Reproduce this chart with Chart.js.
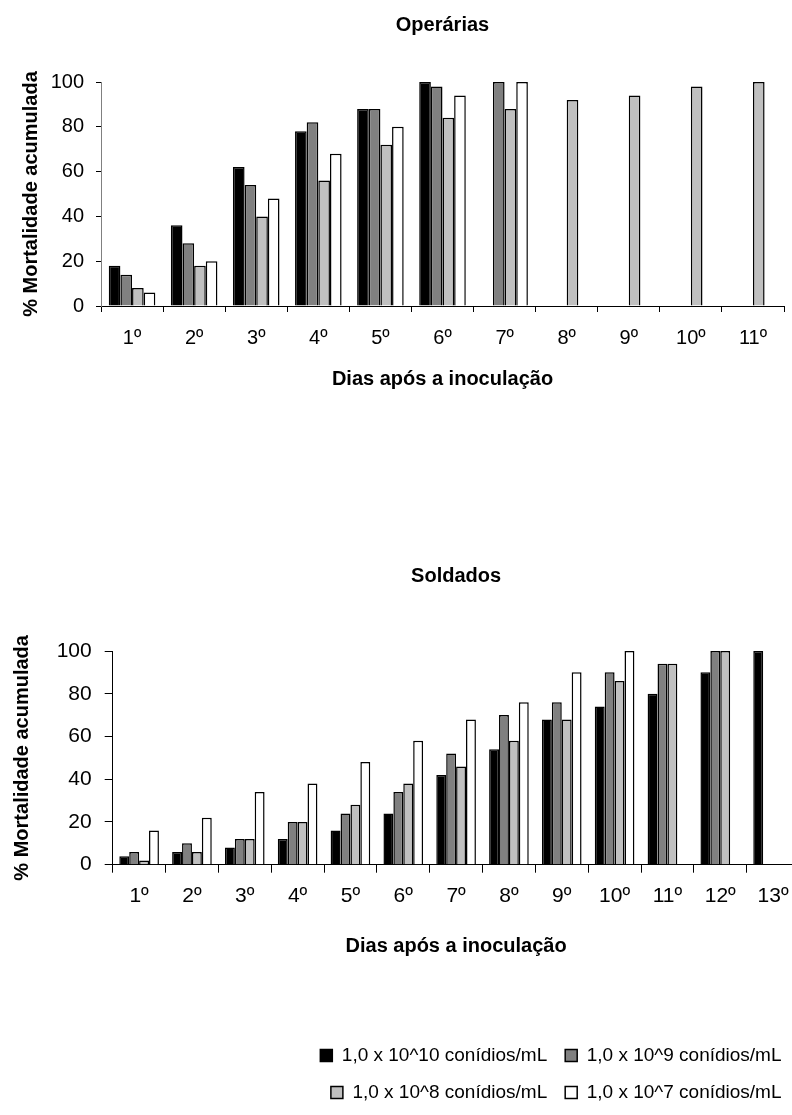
<!DOCTYPE html>
<html>
<head>
<meta charset="utf-8">
<script src="https://cdn.jsdelivr.net/npm/chart.js@4/dist/chart.umd.min.js"></script>
<style>
  html, body { margin: 0; padding: 0; background: #fff; }
  body { width: 792px; height: 1115px; overflow: hidden; position: relative; }
  #boxTop { position: absolute; left: -14px; top: 0; width: 806px; height: 400px; }
  #boxBot { position: absolute; left: -16px; top: 530px; width: 816px; height: 585px; }
</style>
</head>
<body>
<div id="boxTop"><canvas id="chartOperarias"></canvas></div>
<div id="boxBot"><canvas id="chartSoldados"></canvas></div>
<script>
// Series (cumulative mortality, %) per conidia concentration
const seriesNames = [
  '1,0 x 10^10 conídios/mL',
  '1,0 x 10^9 conídios/mL',
  '1,0 x 10^8 conídios/mL',
  '1,0 x 10^7 conídios/mL'
];
const seriesFills = ['#000000', '#808080', '#C0C0C0', '#FFFFFF'];

// Workers
const daysOperarias = ['1º', '2º', '3º', '4º', '5º', '6º', '7º', '8º', '9º', '10º', '11º'];
const operariasE10 = [18, 36, 62, 78, 88, 100, null, null, null, null, null];
const operariasE9  = [14, 28, 54, 82, 88, 98, 100, null, null, null, null];
const operariasE8  = [8, 18, 40, 56, 72, 84, 88, 92, 94, 98, 100];
const operariasE7  = [6, 20, 48, 68, 80, 94, 100, null, null, null, null];

// Soldiers
const daysSoldados = ['1º', '2º', '3º', '4º', '5º', '6º', '7º', '8º', '9º', '10º', '11º', '12º', '13º'];
const soldadosE10 = [4, 6, 8, 12, 16, 24, 42, 54, 68, 74, 80, 90, 100];
const soldadosE9  = [6, 10, 12, 20, 24, 34, 52, 70, 76, 90, 94, 100, null];
const soldadosE8  = [2, 6, 12, 20, 28, 38, 46, 58, 68, 86, 94, 100, null];
const soldadosE7  = [16, 22, 34, 38, 48, 58, 68, 76, 90, 100, null, null, null];

const yMin = 0, yMax = 100, yStep = 20;

Chart.defaults.font.family = '"Liberation Sans", Arial, Helvetica, sans-serif';
Chart.defaults.color = '#000';
Chart.defaults.animation = false;

function makeDatasets(seriesList) {
  return seriesList.map((values, i) => ({
    label: seriesNames[i],
    data: values,
    backgroundColor: seriesFills[i],
    borderColor: '#000',
    borderWidth: 1.5,
    categoryPercentage: 0.75,
    barPercentage: 1.0
  }));
}

function makeScales(s) {
  return {
    x: {
      grid: { display: true, drawOnChartArea: false, drawTicks: true, tickLength: s.xTickLen, color: '#000', offset: true, lineWidth: 1 },
      border: { display: true, color: '#000', width: 1 },
      ticks: { font: { size: s.tickFont }, padding: s.xTickPad, maxRotation: 0, autoSkip: false },
      title: { display: true, text: 'Dias após a inoculação', font: { size: s.axisFont, weight: 'bold' }, padding: { top: 0, bottom: s.xTitlePad } },
      afterFit: scale => { scale.height = s.xHeight; }
    },
    y: {
      min: yMin, max: yMax,
      grid: { display: true, drawOnChartArea: false, drawTicks: true, tickLength: s.yTickLen, color: '#000', lineWidth: 1 },
      border: { display: true, color: s.yBorder, width: 1 },
      ticks: { stepSize: yStep, font: { size: s.tickFont }, padding: s.yTickPad },
      title: { display: true, text: '% Mortalidade acumulada', font: { size: s.axisFont, weight: 'bold' }, padding: { top: s.yTitlePad, bottom: 0 } },
      afterFit: scale => { scale.width = s.yWidth; }
    }
  };
}

new Chart(document.getElementById('chartOperarias'), {
  type: 'bar',
  data: {
    labels: daysOperarias,
    datasets: makeDatasets([operariasE10, operariasE9, operariasE8, operariasE7])
  },
  options: {
    responsive: true,
    maintainAspectRatio: false,
    layout: { padding: { left: 0, right: 8, top: 0, bottom: 0 } },
    plugins: {
      legend: { display: false },
      tooltip: { enabled: false },
      title: {
        display: true, text: 'Operárias', fullSize: false,
        font: { size: 20, weight: 'bold' },
        padding: { top: 13, bottom: 45 }
      }
    },
    scales: makeScales({
      xTickLen: 6, yTickLen: 5, tickFont: 20, xTickPad: 14, yTickPad: 12,
      axisFont: 20, xTitlePad: 9, xHeight: 94, yWidth: 115, yTitlePad: 33,
      yBorder: '#808080'
    })
  }
});

new Chart(document.getElementById('chartSoldados'), {
  type: 'bar',
  data: {
    labels: daysSoldados,
    datasets: makeDatasets([soldadosE10, soldadosE9, soldadosE8, soldadosE7])
  },
  options: {
    responsive: true,
    maintainAspectRatio: false,
    layout: { padding: { left: 0, right: 0.5, top: 0, bottom: 3 } },
    plugins: {
      tooltip: { enabled: false },
      title: {
        display: true, text: 'Soldados', fullSize: false,
        font: { size: 20, weight: 'bold' },
        padding: { top: 34, bottom: 63 }
      },
      legend: {
        display: true,
        position: 'bottom',
        align: 'end',
        fullSize: false,
        labels: { boxWidth: 12, boxHeight: 12, padding: 18, font: { size: 19 }, color: '#000' }
      }
    },
    scales: makeScales({
      xTickLen: 8, yTickLen: 8, tickFont: 21, xTickPad: 11, yTickPad: 13,
      axisFont: 20, xTitlePad: 70, xHeight: 163.3, yWidth: 128.7, yTitlePad: 26,
      yBorder: '#000'
    })
  }
});
</script>
</body>
</html>
